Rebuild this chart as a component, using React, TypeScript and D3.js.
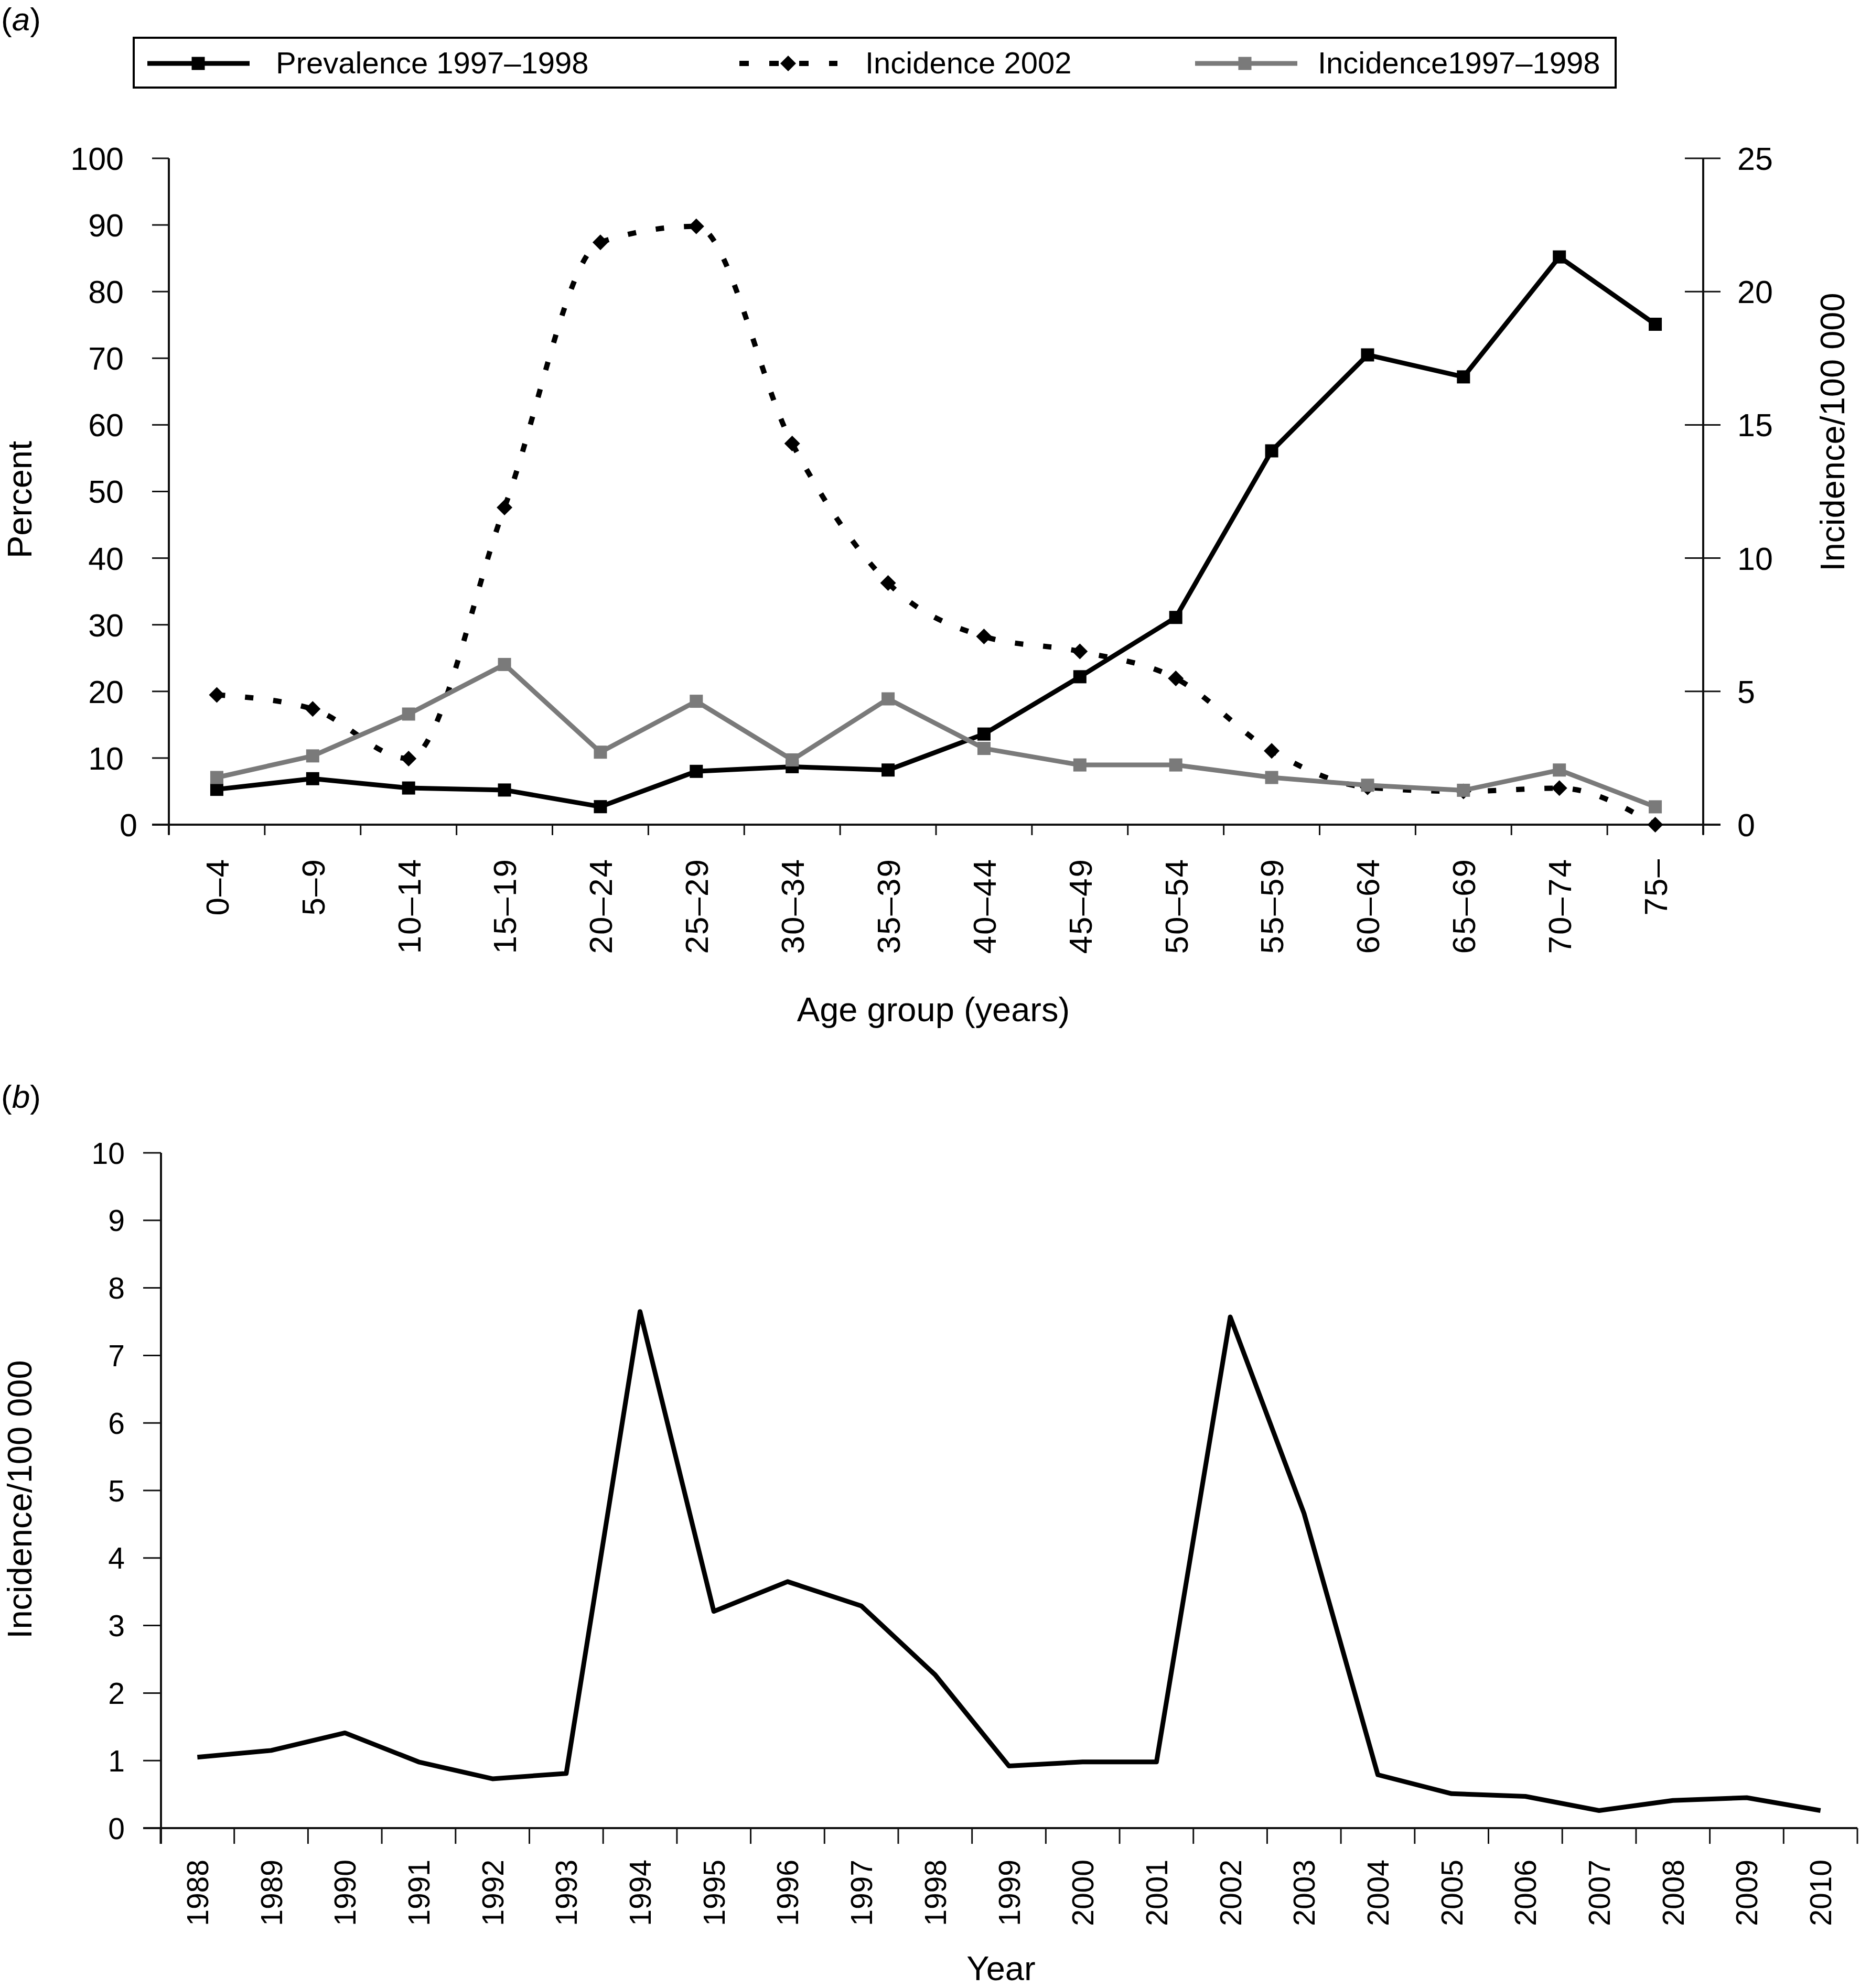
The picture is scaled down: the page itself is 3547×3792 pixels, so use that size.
import React from "react";
import * as d3 from "d3";

const ageGroups = ["0–4","5–9","10–14","15–19","20–24","25–29","30–34","35–39","40–44","45–49","50–54","55–59","60–64","65–69","70–74","75–"];
const prevalence = [5.3, 6.9, 5.5, 5.2, 2.7, 8.0, 8.7, 8.2, 13.6, 22.2, 31.1, 56.1, 70.5, 67.2, 85.2, 75.1];
const incidence2002 = [4.87, 4.34, 2.48, 11.9, 21.85, 22.45, 14.3, 9.07, 7.06, 6.5, 5.49, 2.77, 1.4, 1.25, 1.37, 0];
const incidence9798 = [1.77, 2.58, 4.15, 6.01, 2.72, 4.63, 2.43, 4.72, 2.86, 2.24, 2.24, 1.77, 1.48, 1.29, 2.05, 0.67];
const leftTicks = [0, 10, 20, 30, 40, 50, 60, 70, 80, 90, 100];
const rightTicks = [0, 5, 10, 15, 20, 25];

const years = ["1988","1989","1990","1991","1992","1993","1994","1995","1996","1997","1998","1999","2000","2001","2002","2003","2004","2005","2006","2007","2008","2009","2010"];
const yearlyIncidence = [1.05, 1.15, 1.41, 0.98, 0.73, 0.81, 7.65, 3.21, 3.65, 3.29, 2.27, 0.92, 0.98, 0.98, 7.57, 4.66, 0.79, 0.51, 0.47, 0.26, 0.41, 0.45, 0.26];
const bottomTicks = [0, 1, 2, 3, 4, 5, 6, 7, 8, 9, 10];

const FONT = "'Liberation Sans', Arial, Helvetica, sans-serif";
const GRAY = "#7a7a7a";

export default function App() {
  const xTop = d3.scaleBand<string>().domain(ageGroups).range([322, 3248]).padding(0);
  const yLeft = d3.scaleLinear().domain([0, 100]).range([1573, 302]);
  const yRight = d3.scaleLinear().domain([0, 25]).range([1573, 302]);
  const cx = (d: string) => (xTop(d) as number) + xTop.bandwidth() / 2;

  const xBot = d3.scaleBand<string>().domain(years).range([306, 3542]).padding(0);
  const yBot = d3.scaleLinear().domain([0, 10]).range([3487, 2199]);
  const bx = (d: string) => (xBot(d) as number) + xBot.bandwidth() / 2;

  const prevLine = d3.line<number>().x((_, i) => cx(ageGroups[i])).y((v) => yLeft(v));
  const inc02Line = d3.line<number>().x((_, i) => cx(ageGroups[i])).y((v) => yRight(v)).curve(d3.curveMonotoneX);
  const inc97Line = d3.line<number>().x((_, i) => cx(ageGroups[i])).y((v) => yRight(v));
  const botLine = d3.line<number>().x((_, i) => bx(years[i])).y((v) => yBot(v));

  const topBoundaries = ageGroups.map((d) => xTop(d) as number).concat([xTop.range()[1]]);
  const botBoundaries = years.map((d) => xBot(d) as number).concat([xBot.range()[1]]);

  const sq = 25;
  const diamond = (x: number, y: number, r: number) => `M${x},${y - r}L${x + r},${y}L${x},${y + r}L${x - r},${y}Z`;

  return (
    <svg width={3547} height={3792} style={{ position: "absolute", left: 0, top: 0, background: "#fff" }} fontFamily={FONT}>
      <rect x={0} y={0} width={3547} height={3792} fill="#fff" />
      {/* (a) label */}
      <text x={2} y={58} fontSize={62}>(<tspan fontStyle="italic">a</tspan>)</text>

      {/* Legend */}
      <rect x={255} y={72} width={2826} height={95} fill="#fff" stroke="#000" strokeWidth={4} />
      <line x1={281} x2={476} y1={121} y2={121} stroke="#000" strokeWidth={9} />
      <rect x={378 - sq / 2} y={121 - sq / 2} width={sq} height={sq} fill="#000" />
      <text x={526} y={140} fontSize={58}>Prevalence 1997–1998</text>
      <line x1={1410} x2={1597} y1={121} y2={121} stroke="#000" strokeWidth={10} strokeDasharray="18 39" />
      <path d={diamond(1503, 121, 15)} fill="#000" />
      <text x={1650} y={140} fontSize={58}>Incidence 2002</text>
      <line x1={2279} x2={2474} y1={121} y2={121} stroke={GRAY} strokeWidth={9} />
      <rect x={2374 - sq / 2} y={121 - sq / 2} width={sq} height={sq} fill={GRAY} />
      <text x={2513} y={140} fontSize={58}>Incidence1997–1998</text>

      {/* Top chart axes */}
      <line x1={322} x2={322} y1={302} y2={1592} stroke="#111" strokeWidth={4} />
      <line x1={3248} x2={3248} y1={302} y2={1592} stroke="#111" strokeWidth={4} />
      <line x1={290} x2={3281} y1={1573} y2={1573} stroke="#111" strokeWidth={4} />
      {leftTicks.map((t) => (
        <g key={"lt" + t}>
          <line x1={290} x2={322} y1={yLeft(t)} y2={yLeft(t)} stroke="#111" strokeWidth={3} />
          <text x={t === 0 ? 262 : 236} y={yLeft(t)} dy="0.36em" textAnchor="end" fontSize={61}>{t}</text>
        </g>
      ))}
      {rightTicks.map((t) => (
        <g key={"rt" + t}>
          <line x1={3213} x2={3281} y1={yRight(t)} y2={yRight(t)} stroke="#111" strokeWidth={3} />
          <text x={3313} y={yRight(t)} dy="0.36em" textAnchor="start" fontSize={61}>{t}</text>
        </g>
      ))}
      {topBoundaries.map((b, i) => (
        <line key={"tb" + i} x1={b} x2={b} y1={1573} y2={1593} stroke="#111" strokeWidth={3} />
      ))}
      {ageGroups.map((g) => (
        <text key={"tl" + g} transform={`translate(${cx(g)},1637) rotate(-90)`} dy="0.36em" textAnchor="end" fontSize={62} letterSpacing={2}>{g}</text>
      ))}
      <text x={1780} y={1948} textAnchor="middle" fontSize={65}>Age group (years)</text>
      <text transform="translate(60,953) rotate(-90)" textAnchor="middle" fontSize={65}>Percent</text>
      <text transform="translate(3517,824) rotate(-90)" textAnchor="middle" fontSize={65}>Incidence/100 000</text>

      {/* Top chart series */}
      <path d={prevLine(prevalence) as string} fill="none" stroke="#000" strokeWidth={9} strokeLinejoin="round" />
      {prevalence.map((v, i) => (
        <rect key={"pm" + i} x={cx(ageGroups[i]) - sq / 2} y={yLeft(v) - sq / 2} width={sq} height={sq} fill="#000" />
      ))}
      <path d={inc02Line(incidence2002) as string} fill="none" stroke="#000" strokeWidth={10} strokeDasharray="16 38" />
      {incidence2002.map((v, i) => (
        <path key={"dm" + i} d={diamond(cx(ageGroups[i]), yRight(v), 15)} fill="#000" />
      ))}
      <path d={inc97Line(incidence9798) as string} fill="none" stroke={GRAY} strokeWidth={9} strokeLinejoin="round" />
      {incidence9798.map((v, i) => (
        <rect key={"gm" + i} x={cx(ageGroups[i]) - sq / 2} y={yRight(v) - sq / 2} width={sq} height={sq} fill={GRAY} />
      ))}

      {/* (b) label */}
      <text x={2} y={2113} fontSize={62}>(<tspan fontStyle="italic">b</tspan>)</text>

      {/* Bottom chart axes */}
      <line x1={307} x2={307} y1={2199} y2={3517} stroke="#111" strokeWidth={4} />
      <line x1={273} x2={3542} y1={3487} y2={3487} stroke="#111" strokeWidth={4} />
      {bottomTicks.map((t) => (
        <g key={"bt" + t}>
          <line x1={273} x2={307} y1={yBot(t)} y2={yBot(t)} stroke="#111" strokeWidth={3} />
          <text x={238} y={yBot(t)} dy="0.36em" textAnchor="end" fontSize={57}>{t}</text>
        </g>
      ))}
      {botBoundaries.map((b, i) => (
        <line key={"bb" + i} x1={b} x2={b} y1={3487} y2={3517} stroke="#111" strokeWidth={3} />
      ))}
      {years.map((y) => (
        <text key={"yl" + y} transform={`translate(${bx(y)},3547) rotate(-90)`} dy="0.36em" textAnchor="end" fontSize={57}>{y}</text>
      ))}
      <text x={1909} y={3777} textAnchor="middle" fontSize={65}>Year</text>
      <text transform="translate(60,2860) rotate(-90)" textAnchor="middle" fontSize={65}>Incidence/100 000</text>

      <path d={botLine(yearlyIncidence) as string} fill="none" stroke="#000" strokeWidth={9} strokeLinejoin="round" />
    </svg>
  );
}
